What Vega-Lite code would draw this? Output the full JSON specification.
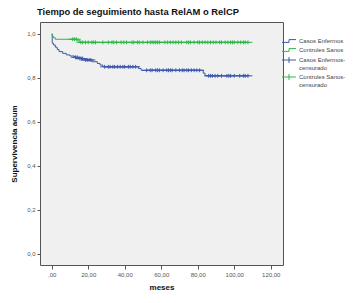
{
  "$schema": "https://vega.github.io/schema/vega-lite/v6.json",
  "width": 243,
  "height": 243,
  "autosize": "none",
  "padding": {"left": 40, "top": 22, "right": 73, "bottom": 38},
  "background": "white",
  "title": {"text": "Tiempo de seguimiento hasta RelAM o RelCP", "anchor": "start", "frame": "group", "dx": -3, "offset": 5, "fontSize": 9.4, "fontWeight": "bold", "color": "#111", "font": "Liberation Sans"},
  "config": {
    "font": "Liberation Sans",
    "view": {"fill": "#f0f0f0", "stroke": "#555", "strokeWidth": 1}
  },
  "datasets": {
    "curves": [
      {"grupo": "Casos Enfermos", "meses": 0, "surv": 1.0},
      {"grupo": "Casos Enfermos", "meses": 0.3, "surv": 0.958},
      {"grupo": "Casos Enfermos", "meses": 1, "surv": 0.95},
      {"grupo": "Casos Enfermos", "meses": 2, "surv": 0.94},
      {"grupo": "Casos Enfermos", "meses": 3, "surv": 0.93},
      {"grupo": "Casos Enfermos", "meses": 4, "surv": 0.92},
      {"grupo": "Casos Enfermos", "meses": 6, "surv": 0.912},
      {"grupo": "Casos Enfermos", "meses": 8, "surv": 0.905},
      {"grupo": "Casos Enfermos", "meses": 10, "surv": 0.9},
      {"grupo": "Casos Enfermos", "meses": 12.5, "surv": 0.894},
      {"grupo": "Casos Enfermos", "meses": 15, "surv": 0.888},
      {"grupo": "Casos Enfermos", "meses": 18, "surv": 0.882},
      {"grupo": "Casos Enfermos", "meses": 22, "surv": 0.874},
      {"grupo": "Casos Enfermos", "meses": 25, "surv": 0.866},
      {"grupo": "Casos Enfermos", "meses": 26.5, "surv": 0.859},
      {"grupo": "Casos Enfermos", "meses": 28, "surv": 0.851},
      {"grupo": "Casos Enfermos", "meses": 47.5, "surv": 0.843},
      {"grupo": "Casos Enfermos", "meses": 49, "surv": 0.835},
      {"grupo": "Casos Enfermos", "meses": 83, "surv": 0.822},
      {"grupo": "Casos Enfermos", "meses": 84, "surv": 0.81},
      {"grupo": "Casos Enfermos", "meses": 107.5, "surv": 0.81},
      {"grupo": "Controles Sanos", "meses": 0, "surv": 1.0},
      {"grupo": "Controles Sanos", "meses": 0.3, "surv": 0.99},
      {"grupo": "Controles Sanos", "meses": 1, "surv": 0.983},
      {"grupo": "Controles Sanos", "meses": 2, "surv": 0.976},
      {"grupo": "Controles Sanos", "meses": 14, "surv": 0.969},
      {"grupo": "Controles Sanos", "meses": 15.5, "surv": 0.962},
      {"grupo": "Controles Sanos", "meses": 107.5, "surv": 0.962}
    ],
    "censored": [
      {"grupo": "Casos Enfermos", "serie": "Casos Enfermos-censurado", "meses": 13, "surv": 0.894},
      {"grupo": "Casos Enfermos", "serie": "Casos Enfermos-censurado", "meses": 14, "surv": 0.894},
      {"grupo": "Casos Enfermos", "serie": "Casos Enfermos-censurado", "meses": 15.5, "surv": 0.888},
      {"grupo": "Casos Enfermos", "serie": "Casos Enfermos-censurado", "meses": 16.5, "surv": 0.888},
      {"grupo": "Casos Enfermos", "serie": "Casos Enfermos-censurado", "meses": 17, "surv": 0.888},
      {"grupo": "Casos Enfermos", "serie": "Casos Enfermos-censurado", "meses": 18.5, "surv": 0.882},
      {"grupo": "Casos Enfermos", "serie": "Casos Enfermos-censurado", "meses": 19.5, "surv": 0.882},
      {"grupo": "Casos Enfermos", "serie": "Casos Enfermos-censurado", "meses": 20.5, "surv": 0.882},
      {"grupo": "Casos Enfermos", "serie": "Casos Enfermos-censurado", "meses": 21.5, "surv": 0.882},
      {"grupo": "Casos Enfermos", "serie": "Casos Enfermos-censurado", "meses": 29, "surv": 0.851},
      {"grupo": "Casos Enfermos", "serie": "Casos Enfermos-censurado", "meses": 31, "surv": 0.851},
      {"grupo": "Casos Enfermos", "serie": "Casos Enfermos-censurado", "meses": 32, "surv": 0.851},
      {"grupo": "Casos Enfermos", "serie": "Casos Enfermos-censurado", "meses": 33.5, "surv": 0.851},
      {"grupo": "Casos Enfermos", "serie": "Casos Enfermos-censurado", "meses": 34.5, "surv": 0.851},
      {"grupo": "Casos Enfermos", "serie": "Casos Enfermos-censurado", "meses": 36, "surv": 0.851},
      {"grupo": "Casos Enfermos", "serie": "Casos Enfermos-censurado", "meses": 37.5, "surv": 0.851},
      {"grupo": "Casos Enfermos", "serie": "Casos Enfermos-censurado", "meses": 39, "surv": 0.851},
      {"grupo": "Casos Enfermos", "serie": "Casos Enfermos-censurado", "meses": 40, "surv": 0.851},
      {"grupo": "Casos Enfermos", "serie": "Casos Enfermos-censurado", "meses": 42, "surv": 0.851},
      {"grupo": "Casos Enfermos", "serie": "Casos Enfermos-censurado", "meses": 43, "surv": 0.851},
      {"grupo": "Casos Enfermos", "serie": "Casos Enfermos-censurado", "meses": 44.5, "surv": 0.851},
      {"grupo": "Casos Enfermos", "serie": "Casos Enfermos-censurado", "meses": 46, "surv": 0.851},
      {"grupo": "Casos Enfermos", "serie": "Casos Enfermos-censurado", "meses": 52, "surv": 0.835},
      {"grupo": "Casos Enfermos", "serie": "Casos Enfermos-censurado", "meses": 54, "surv": 0.835},
      {"grupo": "Casos Enfermos", "serie": "Casos Enfermos-censurado", "meses": 55, "surv": 0.835},
      {"grupo": "Casos Enfermos", "serie": "Casos Enfermos-censurado", "meses": 57, "surv": 0.835},
      {"grupo": "Casos Enfermos", "serie": "Casos Enfermos-censurado", "meses": 58, "surv": 0.835},
      {"grupo": "Casos Enfermos", "serie": "Casos Enfermos-censurado", "meses": 59, "surv": 0.835},
      {"grupo": "Casos Enfermos", "serie": "Casos Enfermos-censurado", "meses": 61, "surv": 0.835},
      {"grupo": "Casos Enfermos", "serie": "Casos Enfermos-censurado", "meses": 63, "surv": 0.835},
      {"grupo": "Casos Enfermos", "serie": "Casos Enfermos-censurado", "meses": 64, "surv": 0.835},
      {"grupo": "Casos Enfermos", "serie": "Casos Enfermos-censurado", "meses": 65, "surv": 0.835},
      {"grupo": "Casos Enfermos", "serie": "Casos Enfermos-censurado", "meses": 66, "surv": 0.835},
      {"grupo": "Casos Enfermos", "serie": "Casos Enfermos-censurado", "meses": 68, "surv": 0.835},
      {"grupo": "Casos Enfermos", "serie": "Casos Enfermos-censurado", "meses": 70, "surv": 0.835},
      {"grupo": "Casos Enfermos", "serie": "Casos Enfermos-censurado", "meses": 71.5, "surv": 0.835},
      {"grupo": "Casos Enfermos", "serie": "Casos Enfermos-censurado", "meses": 72.5, "surv": 0.835},
      {"grupo": "Casos Enfermos", "serie": "Casos Enfermos-censurado", "meses": 74, "surv": 0.835},
      {"grupo": "Casos Enfermos", "serie": "Casos Enfermos-censurado", "meses": 75, "surv": 0.835},
      {"grupo": "Casos Enfermos", "serie": "Casos Enfermos-censurado", "meses": 76.5, "surv": 0.835},
      {"grupo": "Casos Enfermos", "serie": "Casos Enfermos-censurado", "meses": 78, "surv": 0.835},
      {"grupo": "Casos Enfermos", "serie": "Casos Enfermos-censurado", "meses": 79.5, "surv": 0.835},
      {"grupo": "Casos Enfermos", "serie": "Casos Enfermos-censurado", "meses": 81, "surv": 0.835},
      {"grupo": "Casos Enfermos", "serie": "Casos Enfermos-censurado", "meses": 86, "surv": 0.81},
      {"grupo": "Casos Enfermos", "serie": "Casos Enfermos-censurado", "meses": 87, "surv": 0.81},
      {"grupo": "Casos Enfermos", "serie": "Casos Enfermos-censurado", "meses": 88, "surv": 0.81},
      {"grupo": "Casos Enfermos", "serie": "Casos Enfermos-censurado", "meses": 89.5, "surv": 0.81},
      {"grupo": "Casos Enfermos", "serie": "Casos Enfermos-censurado", "meses": 91, "surv": 0.81},
      {"grupo": "Casos Enfermos", "serie": "Casos Enfermos-censurado", "meses": 93, "surv": 0.81},
      {"grupo": "Casos Enfermos", "serie": "Casos Enfermos-censurado", "meses": 96, "surv": 0.81},
      {"grupo": "Casos Enfermos", "serie": "Casos Enfermos-censurado", "meses": 97, "surv": 0.81},
      {"grupo": "Casos Enfermos", "serie": "Casos Enfermos-censurado", "meses": 98, "surv": 0.81},
      {"grupo": "Casos Enfermos", "serie": "Casos Enfermos-censurado", "meses": 100, "surv": 0.81},
      {"grupo": "Casos Enfermos", "serie": "Casos Enfermos-censurado", "meses": 103, "surv": 0.81},
      {"grupo": "Casos Enfermos", "serie": "Casos Enfermos-censurado", "meses": 105, "surv": 0.81},
      {"grupo": "Casos Enfermos", "serie": "Casos Enfermos-censurado", "meses": 106, "surv": 0.81},
      {"grupo": "Casos Enfermos", "serie": "Casos Enfermos-censurado", "meses": 107.5, "surv": 0.81},
      {"grupo": "Controles Sanos", "serie": "Controles Sanos-censurado", "meses": 11.5, "surv": 0.976},
      {"grupo": "Controles Sanos", "serie": "Controles Sanos-censurado", "meses": 12.5, "surv": 0.976},
      {"grupo": "Controles Sanos", "serie": "Controles Sanos-censurado", "meses": 13.5, "surv": 0.976},
      {"grupo": "Controles Sanos", "serie": "Controles Sanos-censurado", "meses": 16, "surv": 0.962},
      {"grupo": "Controles Sanos", "serie": "Controles Sanos-censurado", "meses": 17, "surv": 0.962},
      {"grupo": "Controles Sanos", "serie": "Controles Sanos-censurado", "meses": 18.5, "surv": 0.962},
      {"grupo": "Controles Sanos", "serie": "Controles Sanos-censurado", "meses": 20, "surv": 0.962},
      {"grupo": "Controles Sanos", "serie": "Controles Sanos-censurado", "meses": 22, "surv": 0.962},
      {"grupo": "Controles Sanos", "serie": "Controles Sanos-censurado", "meses": 23, "surv": 0.962},
      {"grupo": "Controles Sanos", "serie": "Controles Sanos-censurado", "meses": 24, "surv": 0.962},
      {"grupo": "Controles Sanos", "serie": "Controles Sanos-censurado", "meses": 28, "surv": 0.962},
      {"grupo": "Controles Sanos", "serie": "Controles Sanos-censurado", "meses": 31, "surv": 0.962},
      {"grupo": "Controles Sanos", "serie": "Controles Sanos-censurado", "meses": 33, "surv": 0.962},
      {"grupo": "Controles Sanos", "serie": "Controles Sanos-censurado", "meses": 34, "surv": 0.962},
      {"grupo": "Controles Sanos", "serie": "Controles Sanos-censurado", "meses": 35.5, "surv": 0.962},
      {"grupo": "Controles Sanos", "serie": "Controles Sanos-censurado", "meses": 38, "surv": 0.962},
      {"grupo": "Controles Sanos", "serie": "Controles Sanos-censurado", "meses": 39.5, "surv": 0.962},
      {"grupo": "Controles Sanos", "serie": "Controles Sanos-censurado", "meses": 41, "surv": 0.962},
      {"grupo": "Controles Sanos", "serie": "Controles Sanos-censurado", "meses": 44, "surv": 0.962},
      {"grupo": "Controles Sanos", "serie": "Controles Sanos-censurado", "meses": 45, "surv": 0.962},
      {"grupo": "Controles Sanos", "serie": "Controles Sanos-censurado", "meses": 47, "surv": 0.962},
      {"grupo": "Controles Sanos", "serie": "Controles Sanos-censurado", "meses": 48, "surv": 0.962},
      {"grupo": "Controles Sanos", "serie": "Controles Sanos-censurado", "meses": 50, "surv": 0.962},
      {"grupo": "Controles Sanos", "serie": "Controles Sanos-censurado", "meses": 52.5, "surv": 0.962},
      {"grupo": "Controles Sanos", "serie": "Controles Sanos-censurado", "meses": 54, "surv": 0.962},
      {"grupo": "Controles Sanos", "serie": "Controles Sanos-censurado", "meses": 55, "surv": 0.962},
      {"grupo": "Controles Sanos", "serie": "Controles Sanos-censurado", "meses": 56, "surv": 0.962},
      {"grupo": "Controles Sanos", "serie": "Controles Sanos-censurado", "meses": 57, "surv": 0.962},
      {"grupo": "Controles Sanos", "serie": "Controles Sanos-censurado", "meses": 58, "surv": 0.962},
      {"grupo": "Controles Sanos", "serie": "Controles Sanos-censurado", "meses": 59, "surv": 0.962},
      {"grupo": "Controles Sanos", "serie": "Controles Sanos-censurado", "meses": 62, "surv": 0.962},
      {"grupo": "Controles Sanos", "serie": "Controles Sanos-censurado", "meses": 63.5, "surv": 0.962},
      {"grupo": "Controles Sanos", "serie": "Controles Sanos-censurado", "meses": 65, "surv": 0.962},
      {"grupo": "Controles Sanos", "serie": "Controles Sanos-censurado", "meses": 66.5, "surv": 0.962},
      {"grupo": "Controles Sanos", "serie": "Controles Sanos-censurado", "meses": 68, "surv": 0.962},
      {"grupo": "Controles Sanos", "serie": "Controles Sanos-censurado", "meses": 69.5, "surv": 0.962},
      {"grupo": "Controles Sanos", "serie": "Controles Sanos-censurado", "meses": 71, "surv": 0.962},
      {"grupo": "Controles Sanos", "serie": "Controles Sanos-censurado", "meses": 74, "surv": 0.962},
      {"grupo": "Controles Sanos", "serie": "Controles Sanos-censurado", "meses": 75, "surv": 0.962},
      {"grupo": "Controles Sanos", "serie": "Controles Sanos-censurado", "meses": 76, "surv": 0.962},
      {"grupo": "Controles Sanos", "serie": "Controles Sanos-censurado", "meses": 78, "surv": 0.962},
      {"grupo": "Controles Sanos", "serie": "Controles Sanos-censurado", "meses": 80, "surv": 0.962},
      {"grupo": "Controles Sanos", "serie": "Controles Sanos-censurado", "meses": 81, "surv": 0.962},
      {"grupo": "Controles Sanos", "serie": "Controles Sanos-censurado", "meses": 82.5, "surv": 0.962},
      {"grupo": "Controles Sanos", "serie": "Controles Sanos-censurado", "meses": 84, "surv": 0.962},
      {"grupo": "Controles Sanos", "serie": "Controles Sanos-censurado", "meses": 85.5, "surv": 0.962},
      {"grupo": "Controles Sanos", "serie": "Controles Sanos-censurado", "meses": 87, "surv": 0.962},
      {"grupo": "Controles Sanos", "serie": "Controles Sanos-censurado", "meses": 88.5, "surv": 0.962},
      {"grupo": "Controles Sanos", "serie": "Controles Sanos-censurado", "meses": 90, "surv": 0.962},
      {"grupo": "Controles Sanos", "serie": "Controles Sanos-censurado", "meses": 92, "surv": 0.962},
      {"grupo": "Controles Sanos", "serie": "Controles Sanos-censurado", "meses": 93, "surv": 0.962},
      {"grupo": "Controles Sanos", "serie": "Controles Sanos-censurado", "meses": 95, "surv": 0.962},
      {"grupo": "Controles Sanos", "serie": "Controles Sanos-censurado", "meses": 96.5, "surv": 0.962},
      {"grupo": "Controles Sanos", "serie": "Controles Sanos-censurado", "meses": 98, "surv": 0.962},
      {"grupo": "Controles Sanos", "serie": "Controles Sanos-censurado", "meses": 99, "surv": 0.962},
      {"grupo": "Controles Sanos", "serie": "Controles Sanos-censurado", "meses": 100, "surv": 0.962},
      {"grupo": "Controles Sanos", "serie": "Controles Sanos-censurado", "meses": 102, "surv": 0.962},
      {"grupo": "Controles Sanos", "serie": "Controles Sanos-censurado", "meses": 103.5, "surv": 0.962},
      {"grupo": "Controles Sanos", "serie": "Controles Sanos-censurado", "meses": 105, "surv": 0.962},
      {"grupo": "Controles Sanos", "serie": "Controles Sanos-censurado", "meses": 106, "surv": 0.962},
      {"grupo": "Controles Sanos", "serie": "Controles Sanos-censurado", "meses": 107.5, "surv": 0.962}
    ]
  },
  "encoding": {
    "x": {
      "field": "meses", "type": "quantitative",
      "scale": {"domain": [-6.4, 126.7], "nice": false, "zero": false},
      "axis": {
        "title": "meses", "titleFontSize": 8, "titleFontWeight": "bold", "titleColor": "#111", "titlePadding": 6,
        "values": [0, 20, 40, 60, 80, 100, 120],
        "labelExpr": "datum.value == 0 ? ',00' : replace(format(datum.value, '.2f'), '.', ',')",
        "labelFontSize": 6, "labelColor": "#555", "labelPadding": 2,
        "tickSize": 4, "tickColor": "#555", "domain": false, "grid": false
      }
    },
    "y": {
      "field": "surv", "type": "quantitative",
      "scale": {"domain": [-0.05, 1.0545], "nice": false, "zero": false},
      "axis": {
        "title": "Supervivencia acum", "titleFontSize": 8, "titleFontWeight": "bold", "titleColor": "#111", "titlePadding": 8,
        "values": [0, 0.2, 0.4, 0.6, 0.8, 1.0],
        "labelExpr": "replace(format(datum.value, '.1f'), '.', ',')",
        "labelFontSize": 6, "labelColor": "#555", "labelPadding": 2,
        "tickSize": 3, "tickColor": "#555", "domain": false, "grid": false
      }
    },
    "color": {
      "field": "grupo", "type": "nominal",
      "scale": {"domain": ["Casos Enfermos", "Controles Sanos"], "range": ["#3e58ac", "#2eb848"]},
      "legend": null
    }
  },
  "layer": [
    {
      "data": {"name": "curves"},
      "mark": {"type": "line", "interpolate": "step-after", "strokeWidth": 1}
    },
    {
      "data": {"name": "censored"},
      "mark": {"type": "point", "filled": false, "strokeWidth": 1, "size": 20, "opacity": 1},
      "encoding": {
        "shape": {
          "field": "serie", "type": "nominal",
          "scale": {"domain": ["Casos Enfermos", "Controles Sanos", "Casos Enfermos-censurado", "Controles Sanos-censurado"], "range": ["M -2 0.4 L 0 0.4 L 0 -0.4 L 2 -0.4", "M -2 0.4 L 0 0.4 L 0 -0.4 L 2 -0.4", "M -2 0 L 2 0 M 0 -0.85 L 0 0.85", "M -2 0 L 2 0 M 0 -0.85 L 0 0.85"]},
          "legend": {
            "title": null, "orient": "none", "legendX": 245, "legendY": 15,
            "labelFontSize": 6, "labelColor": "#444", "symbolSize": 49, "symbolStrokeWidth": 1,
            "symbolFillColor": "transparent",
            "symbolStrokeColor": {"expr": "indexof(datum.value, 'Casos') == 0 ? '#3e58ac' : '#2eb848'"},
            "rowPadding": 1, "labelOffset": 6,
            "labelExpr": "datum.label == 'Casos Enfermos-censurado' ? ['Casos Enfermos-', 'censurado'] : datum.label == 'Controles Sanos-censurado' ? ['Controles Sanos-', 'censurado'] : datum.label",
            "encode": {"labels": {"update": {"lineHeight": {"value": 7}}}}
          }
        }
      }
    }
  ]
}
